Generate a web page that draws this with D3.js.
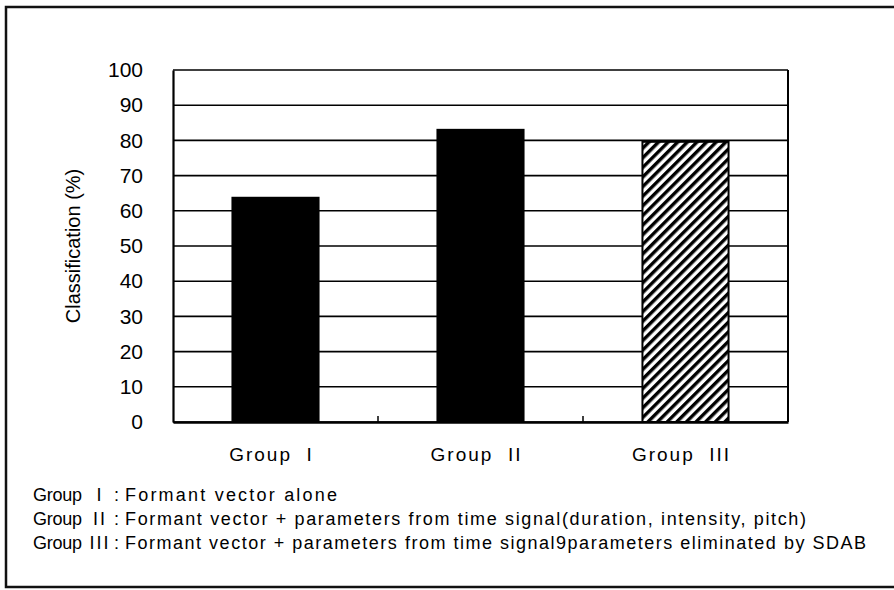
<!DOCTYPE html>
<html>
<head>
<meta charset="utf-8">
<script src="https://cdn.jsdelivr.net/npm/d3@7"></script>
<style>
  body { margin: 0; background: #fff; }
  text { font-family: "Liberation Sans", Arial, sans-serif; fill: #000; }
</style>
</head>
<body>
<div id="chart"></div>
<script>
// values
var groups = ["Group  I", "Group  II", "Group  III"];
var classification = [63.7, 83.0, 79.6];
var barStyle = ["solid", "solid", "hatch"];
var yTicks = [0, 10, 20, 30, 40, 50, 60, 70, 80, 90, 100];
var legendNumerals = ["I", "II", "III"];
var legendNotes = [
  "Formant vector alone",
  "Formant vector + parameters from time signal(duration, intensity, pitch)",
  "Formant vector + parameters from time signal9parameters eliminated by SDAB"
];
// how far each note line runs in the picture
var legendNoteWidth = [212, 681, 741];

var width = 894, height = 590;
var margin = {left: 173, right: 106, top: 70, bottom: 168};

var svg = d3.select('#chart').append('svg')
  .attr('width', width)
  .attr('height', height);

// hatch pattern for the third bar
var defs = svg.append('defs');
var pat = defs.append('pattern')
  .attr('id', 'hatch')
  .attr('patternUnits', 'userSpaceOnUse')
  .attr('width', 6.8)
  .attr('height', 6.8)
  .attr('patternTransform', 'rotate(45)');
pat.append('rect')
  .attr('width', 6.8).attr('height', 6.8)
  .attr('fill', '#fff');
pat.append('rect')
  .attr('x', 0).attr('y', 0)
  .attr('width', 3.4).attr('height', 6.8)
  .attr('fill', '#000');

// outer frame (right edge runs off the picture)
svg.append('rect')
  .attr('x', 6).attr('y', 7)
  .attr('width', 920).attr('height', 580)
  .attr('fill', 'none')
  .attr('stroke', '#111')
  .attr('stroke-width', 2.5);

var x = d3.scaleBand()
  .domain(groups)
  .range([margin.left, width - margin.right])
  .paddingInner(0.58)
  .paddingOuter(0.29);

var y = d3.scaleLinear()
  .domain([0, 100])
  .range([height - margin.bottom, margin.top]);

var x0 = margin.left, x1 = width - margin.right;

// gridlines
svg.append('g')
  .selectAll('line')
  .data(yTicks)
  .enter().append('line')
  .attr('x1', x0).attr('x2', x1)
  .attr('y1', function(d) { return y(d); })
  .attr('y2', function(d) { return y(d); })
  .attr('stroke', '#000')
  .attr('stroke-width', 1.6);

// right border
svg.append('line')
  .attr('x1', x1).attr('x2', x1)
  .attr('y1', y(100)).attr('y2', y(0))
  .attr('stroke', '#000').attr('stroke-width', 2);

// bars
svg.append('g')
  .selectAll('rect')
  .data(groups)
  .enter().append('rect')
  .attr('x', function(d) { return x(d); })
  .attr('y', function(d, i) { return y(classification[i]); })
  .attr('width', x.bandwidth())
  .attr('height', function(d, i) { return y(0) - y(classification[i]); })
  .attr('fill', function(d, i) { return barStyle[i] === 'hatch' ? 'url(#hatch)' : '#000'; })
  .attr('stroke', '#000')
  .attr('stroke-width', 2);

// y axis
var yAxis = svg.append('g')
  .attr('transform', 'translate(' + x0 + ',0)')
  .call(d3.axisLeft(y).tickValues(yTicks).tickSize(0).tickPadding(30));
yAxis.select('.domain').attr('stroke', '#000').attr('stroke-width', 2.2);
yAxis.selectAll('text')
  .attr('font-size', '21px')
  .attr('font-family', '"Liberation Sans", Arial, sans-serif')
  .attr('fill', '#000');

// x axis with ticks between groups
var xAxis = svg.append('g')
  .attr('transform', 'translate(0,' + y(0) + ')')
  .call(d3.axisBottom(x).tickSize(0).tickPadding(26));
xAxis.select('.domain').attr('stroke', '#000').attr('stroke-width', 2.5);
xAxis.selectAll('text')
  .attr('font-size', '19px')
  .attr('font-family', '"Liberation Sans", Arial, sans-serif')
  .attr('fill', '#000')
  .attr('dx', -4)
  .style('white-space', 'pre')
  .attr('letter-spacing', '2px');

var step = x.step();
svg.append('g')
  .selectAll('line')
  .data(groups.slice(1))
  .enter().append('line')
  .attr('x1', function(d) { return x(d) - (step - x.bandwidth()) / 2; })
  .attr('x2', function(d) { return x(d) - (step - x.bandwidth()) / 2; })
  .attr('y1', y(0)).attr('y2', y(0) - 6)
  .attr('stroke', '#000').attr('stroke-width', 1.5);

// y axis title
svg.append('text')
  .attr('transform', 'translate(80,' + y(50) + ') rotate(-90)')
  .attr('text-anchor', 'middle')
  .attr('font-size', '20px')
  .text('Classification (%)');

// notes below the chart
var legend = svg.append('g');
legendNumerals.forEach(function(k, i) {
  var row = legend.append('g').attr('transform', 'translate(33,' + (501 + i * 24) + ')');
  row.append('text')
    .attr('font-size', '18px')
    .attr('textLength', 49)
    .text('Group');
  row.append('text')
    .attr('x', 67)
    .attr('text-anchor', 'middle')
    .attr('font-size', '18px')
    .attr('letter-spacing', '2px')
    .text(k);
  row.append('text')
    .attr('x', 81)
    .attr('font-size', '18px')
    .text(':');
  row.append('text')
    .attr('x', 92)
    .attr('font-size', '18px')
    .attr('textLength', legendNoteWidth[i])
    .text(legendNotes[i]);
});
</script>
</body>
</html>
